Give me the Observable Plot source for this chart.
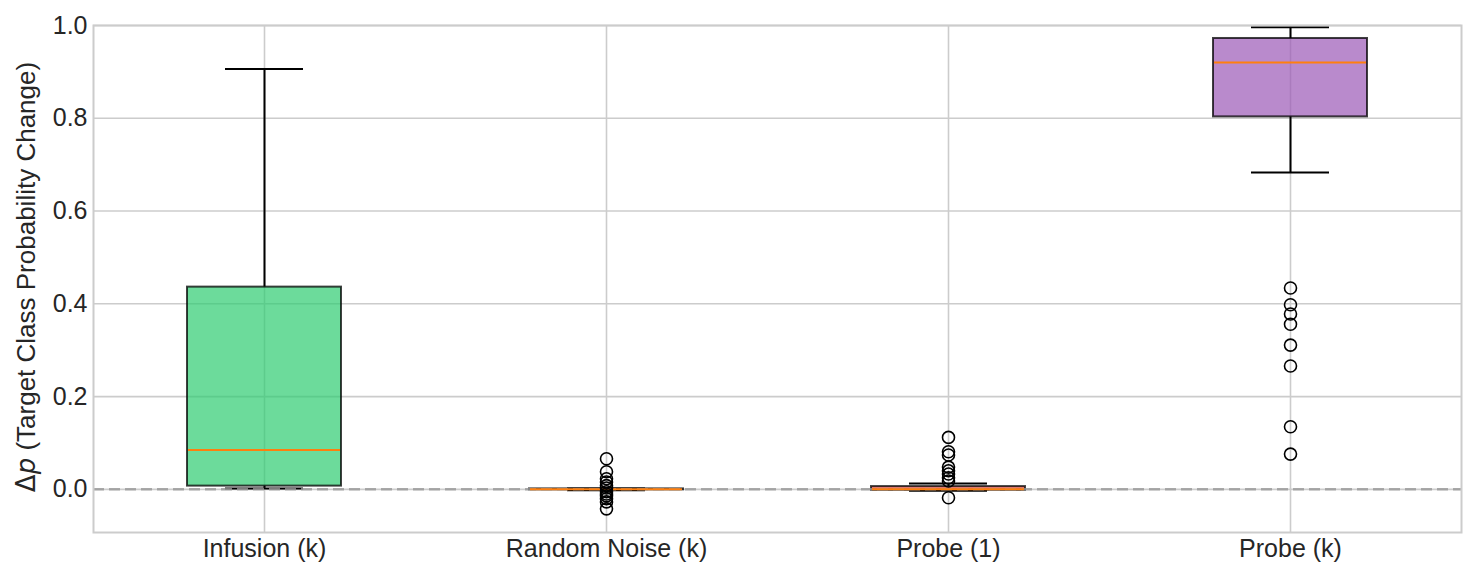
<!DOCTYPE html>
<html><head><meta charset="utf-8">
<script src="https://cdn.jsdelivr.net/npm/d3@7"></script>
<script src="https://cdn.jsdelivr.net/npm/@observablehq/plot@0.6"></script>
<style>body{margin:0;background:#fff}</style>
</head><body><div id="chart"></div>
<script>
const categories = ["Infusion (k)", "Random Noise (k)", "Probe (1)", "Probe (k)"];
const boxColors = ["#2ecc71", "#3498db", "#e74c3c", "#9b59b6"];
const q1 = [0.007, -0.001, -0.002, 0.803];
const median = [0.085, 0.0, 0.0005, 0.920];
const q3 = [0.436, 0.001, 0.006, 0.972];
const whiskerLow = [0.002, -0.002, -0.003, 0.683];
const whiskerHigh = [0.906, 0.002, 0.0125, 0.996];
const outliersRandomNoise = [0.066, 0.038, 0.023, 0.016, 0.008, 0.003, -0.005, -0.010, -0.014, -0.020, -0.027, -0.042];
const outliersProbe1 = [0.112, 0.081, 0.074, 0.048, 0.040, 0.033, 0.025, 0.018, -0.018];
const outliersProbeK = [0.434, 0.398, 0.378, 0.356, 0.311, 0.266, 0.135, 0.076];
const yTicks = [0, 0.2, 0.4, 0.6, 0.8, 1.0];

const boxes = categories.map((c, i) => ({
  category: c, color: boxColors[i], q1: q1[i], median: median[i], q3: q3[i],
  lo: whiskerLow[i], hi: whiskerHigh[i]
}));
const outliers = [
  ...outliersRandomNoise.map(v => ({category: categories[1], value: v})),
  ...outliersProbe1.map(v => ({category: categories[2], value: v})),
  ...outliersProbeK.map(v => ({category: categories[3], value: v}))
];

const BOX_INSET = 94, CAP_INSET = 132;

const chart = Plot.plot({
  width: 1475, height: 578,
  marginLeft: 93, marginRight: 14, marginTop: 25, marginBottom: 46,
  style: {fontFamily: "'Liberation Sans', Arial, sans-serif", fontSize: "25px", color: "#262626", background: "#fff"},
  x: {domain: categories, padding: 0, label: null},
  y: {domain: [-0.093, 1.0], label: null},
  color: {type: "identity"},
  marks: [
    Plot.ruleY(yTicks, {stroke: "#cccccc", strokeWidth: 1.6}),
    Plot.ruleX(categories, {x: d => d, stroke: "#cccccc", strokeWidth: 1.6}),
    Plot.ruleX(boxes, {x: "category", y1: "q3", y2: "hi", stroke: "black", strokeWidth: 2}),
    Plot.ruleX(boxes, {x: "category", y1: "lo", y2: "q1", stroke: "black", strokeWidth: 2}),
    Plot.tickY(boxes, {x: "category", y: "hi", insetLeft: CAP_INSET, insetRight: CAP_INSET, stroke: "black", strokeWidth: 2}),
    Plot.tickY(boxes, {x: "category", y: "lo", insetLeft: CAP_INSET, insetRight: CAP_INSET, stroke: "black", strokeWidth: 2}),
    Plot.barY(boxes, {x: "category", y1: "q1", y2: "q3", fill: "color", fillOpacity: 0.7,
      stroke: "black", strokeOpacity: 0.75, strokeWidth: 2, insetLeft: BOX_INSET, insetRight: BOX_INSET}),
    Plot.ruleY([0], {stroke: "#999999", strokeOpacity: 0.8, strokeWidth: 2.5, strokeDasharray: "11,5"}),
    Plot.tickY(boxes, {x: "category", y: "median", insetLeft: BOX_INSET + 1, insetRight: BOX_INSET + 1, stroke: "#ff7f0e", strokeWidth: 2}),
    Plot.dot(outliers, {x: "category", y: "value", r: 6, fill: "none", stroke: "black", strokeWidth: 1.6}),
    Plot.frame({stroke: "#cccccc", strokeWidth: 2}),
    Plot.axisY({ticks: yTicks, tickFormat: d3.format(".1f"), tickSize: 0, tickPadding: 6, label: null}),
    Plot.axisX({tickSize: 0, tickPadding: 7, label: null})
  ]
});

const svg = d3.select(chart);
const lbl = svg.append("text")
  .attr("transform", "translate(35,277) rotate(-90)")
  .attr("text-anchor", "middle")
  .attr("fill", "#262626")
  .style("font-size", "26px");
lbl.append("tspan").style("font-family", "'DejaVu Sans'").text("Δ");
lbl.append("tspan").style("font-family", "'DejaVu Sans'").style("font-style", "italic").text("p");
lbl.append("tspan").text(" (Target Class Probability Change)");

document.getElementById("chart").appendChild(chart);
</script>
</body></html>
